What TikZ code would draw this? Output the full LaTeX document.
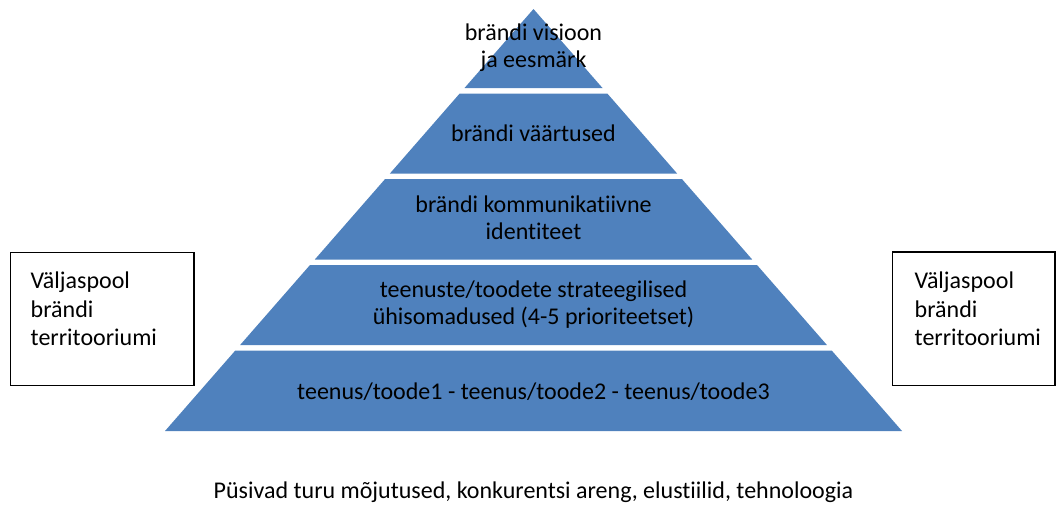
\documentclass[tikz,border=0pt]{standalone}
\usepackage{fontspec}
\setmainfont{Carlito}[Ligatures={NoCommon}]
\definecolor{pyrblue}{HTML}{4F81BD}
\begin{document}
\begin{tikzpicture}[x=1pt,y=-1pt,
  layer/.style={fill=pyrblue},
  lbl/.style={font=\fontsize{24}{27}\selectfont, align=center, inner sep=0pt, text=black},
  sidebox/.style={draw=black, line width=1.4pt},
  sidetxt/.style={font=\fontsize{24}{28.5}\selectfont, align=left, inner sep=0pt, anchor=north west}]
\useasboundingbox (0,0) rectangle (1064,506);
% pyramid layers
\fill[layer] (533.5,9) -- (602.5,88) -- (464.5,88) -- cycle;
\fill[layer] (459.7,93.5) -- (607.3,93.5) -- (677.1,173.5) -- (389.9,173.5) -- cycle;
\fill[layer] (385.1,179) -- (681.9,179) -- (752.2,259.5) -- (314.8,259.5) -- cycle;
\fill[layer] (310,265) -- (757,265) -- (826.9,345) -- (240.1,345) -- cycle;
\fill[layer] (235.3,350.5) -- (831.7,350.5) -- (902,431) -- (165,431) -- cycle;
% labels
\node[lbl] (l1) at (533.5,48) {brändi visioon\\ja eesmärk};
\node[lbl] (l2) at (533.5,133) {brändi väärtused};
\node[lbl] (l3) at (533.5,218) {brändi kommunikatiivne\\identiteet};
\node[lbl] (l4) at (533.5,305) {teenuste/toodete strateegilised\\ühisomadused (4-5 prioriteetset)};
\node[lbl] (l5) at (533.5,392) {teenus/toode1 - teenus/toode2 - teenus/toode3};
% side boxes
\draw[sidebox] (10.5,252.5) rectangle (194,385.5);
\node[sidetxt] (lt) at (30.5,272) {Väljaspool\\brändi\\territooriumi};
\draw[sidebox] (892.5,252) rectangle (1055,385.5);
\node[sidetxt] (rt) at (914.5,272) {Väljaspool\\brändi\\territooriumi};
% bottom text
\node[lbl] (bt) at (533.5,492) {Püsivad turu mõjutused, konkurentsi areng, elustiilid, tehnoloogia};
\end{tikzpicture}
\end{document}
